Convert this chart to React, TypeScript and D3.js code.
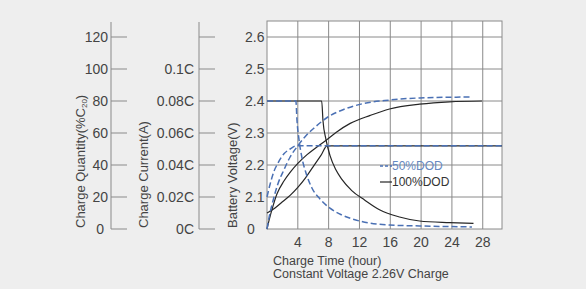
import React from "react";
import * as d3 from "d3";

const W = 586;
const H = 289;

// tick values and labels
const hourTicks = [4, 8, 12, 16, 20, 24, 28];
const quantityTicks = [0, 20, 40, 60, 80, 100, 120];
const currentTicks = [0, 0.02, 0.04, 0.06, 0.08, 0.1, 0.12];
const currentLabels = ["0C", "0.02C", "0.04C", "0.06C", "0.08C", "0.1C", ""];
const voltageTicks = [2.0, 2.1, 2.2, 2.3, 2.4, 2.5, 2.6];
const voltageLabels = ["0", "2.1", "2.2", "2.3", "2.4", "2.5", "2.6"];

// series: [hour, value]
const dod100Voltage: [number, number][] = [
  [0, 2.05], [1, 2.065], [2, 2.085], [3, 2.105], [4, 2.13], [5, 2.16],
  [6, 2.195], [7, 2.23], [7.8, 2.26], [30.5, 2.26],
];
const dod100Current: [number, number][] = [
  [0, 0.08], [7.1, 0.08], [7.26, 0.068], [7.65, 0.056], [8.17, 0.046],
  [8.94, 0.037], [9.72, 0.031], [11.0, 0.024], [12.7, 0.018], [14.6, 0.012],
  [17.2, 0.0075], [19.8, 0.005], [23.7, 0.004], [26.8, 0.0035],
];
const dod100Quantity: [number, number][] = [
  [0, 0], [0.3, 6], [0.7, 13], [1.3, 22], [2.2, 30], [3.1, 36], [4, 41],
  [5.2, 46.5], [6.4, 51], [7.8, 56], [9, 60.5], [10.8, 66], [13.4, 71],
  [15.9, 75], [19.8, 78], [23.7, 79.5], [27.9, 80],
];
const dod50Voltage: [number, number][] = [
  [0, 2.1], [0.4, 2.14], [0.9, 2.18], [1.4, 2.205], [2.2, 2.235],
  [3.0, 2.25], [3.8, 2.26], [30.5, 2.26],
];
const dod50Current: [number, number][] = [
  [0, 0.08], [3.75, 0.08], [3.89, 0.068], [4.15, 0.056], [4.54, 0.0444],
  [5.06, 0.035], [5.83, 0.0256], [6.87, 0.0188], [8.17, 0.013], [9.7, 0.0088],
  [12.0, 0.005], [15.9, 0.0025], [19.8, 0.0019], [26.6, 0.0013],
];
const dod50Quantity: [number, number][] = [
  [0, 0], [0.3, 8], [0.8, 18], [1.4, 28], [2.2, 37], [3.0, 45], [4.0, 52],
  [5.0, 58], [6.2, 63.5], [7.9, 70], [10.1, 75], [12.4, 78.3], [15.9, 80.6],
  [19.8, 81.9], [26.6, 82.5],
];

const FONT = "'Liberation Sans', Arial, sans-serif";
const TXT = "#444";
const GRID = "#8a8a8a";
const BLUE = "#4a70b4";
const BLACK = "#262626";

export default function App() {
  const plotL = 267, plotR = 502, plotT = 21, plotB = 229;
  const x = d3.scaleLinear().domain([0, 30.5]).range([plotL, plotR]);
  const yV = d3.scaleLinear().domain([2.0, 2.65]).range([plotB, plotT]);
  const yQ = d3.scaleLinear().domain([0, 130]).range([plotB, plotT]);
  const yC = d3.scaleLinear().domain([0, 0.13]).range([plotB, plotT]);

  const mk = (ys: d3.ScaleLinear<number, number>) =>
    d3.line<[number, number]>()
      .x((d) => x(d[0]))
      .y((d) => ys(d[1]))
      .curve(d3.curveMonotoneX);

  const qAxisX = 111;
  const cAxisX = 199;

  return (
    <>
      <style>{`body{margin:0;background:#eeeeee}`}</style>
      <svg width={W} height={H} style={{ display: "block", fontFamily: FONT }}>
        <rect x={0} y={0} width={W} height={H} fill="#eeeeee" />
        <rect x={plotL} y={plotT} width={plotR - plotL} height={plotB - plotT} fill="#ffffff" />

        {/* grid */}
        {voltageTicks.slice(1).map((v) => (
          <line key={"hg" + v} x1={plotL} x2={plotR} y1={yV(v)} y2={yV(v)} stroke={GRID} strokeWidth={1} />
        ))}
        {hourTicks.map((h) => (
          <line key={"vg" + h} x1={x(h)} x2={x(h)} y1={plotT} y2={plotB} stroke={GRID} strokeWidth={1} />
        ))}
        <rect x={plotL} y={plotT} width={plotR - plotL} height={plotB - plotT} fill="none" stroke={GRID} strokeWidth={1} />

        {/* quantity axis */}
        <line x1={qAxisX} x2={qAxisX} y1={plotT + 1} y2={plotB} stroke={GRID} />
        {quantityTicks.map((q) => (
          <g key={"q" + q}>
            <line x1={qAxisX} x2={qAxisX + 16} y1={yQ(q)} y2={yQ(q)} stroke={GRID} />
            <text x={q === 0 ? 104 : 108} y={yQ(q)} dy="0.36em" textAnchor="end" fontSize={14} fill={TXT}>
              {q}
            </text>
          </g>
        ))}
        {/* current axis */}
        <line x1={cAxisX} x2={cAxisX} y1={plotT + 1} y2={plotB} stroke={GRID} />
        {currentTicks.map((c, i) => (
          <g key={"c" + i}>
            <line x1={cAxisX} x2={cAxisX + 16} y1={yC(c)} y2={yC(c)} stroke={GRID} />
            <text x={194} y={yC(c)} dy="0.36em" textAnchor="end" fontSize={14} fill={TXT}>
              {currentLabels[i]}
            </text>
          </g>
        ))}
        {/* voltage labels */}
        {voltageTicks.map((v, i) => (
          <text key={"v" + i} x={i === 0 ? 247 : 245} y={yV(v)} dy="0.36em" textAnchor="start" fontSize={14} fill={TXT}>
            {voltageLabels[i]}
          </text>
        ))}
        {/* x labels */}
        {hourTicks.map((h) => (
          <text key={"xl" + h} x={x(h)} y={247} textAnchor="middle" fontSize={14} fill={TXT}>
            {h}
          </text>
        ))}

        {/* axis titles */}
        <text transform="translate(85,228) rotate(-90)" fontSize={13} fill={TXT}>
          Charge Quantity(%C<tspan fontSize={8} dy="2">20</tspan><tspan dy="-2">)</tspan>
        </text>
        <text transform="translate(148,228) rotate(-90)" fontSize={13} fill={TXT}>
          Charge Current(A)
        </text>
        <text transform="translate(237,228) rotate(-90)" fontSize={13} fill={TXT}>
          Battery Voltage(V)
        </text>
        <text x={273} y={265} fontSize={12.5} fill={TXT}>Charge Time (hour)</text>
        <text x={273} y={278} fontSize={12.5} fill={TXT}>Constant Voltage 2.26V Charge</text>

        {/* 100% DOD curves */}
        <path d={mk(yV)(dod100Voltage) || ""} fill="none" stroke={BLACK} strokeWidth={1.2} />
        <path d={mk(yC)(dod100Current) || ""} fill="none" stroke={BLACK} strokeWidth={1.2} />
        <path d={mk(yQ)(dod100Quantity) || ""} fill="none" stroke={BLACK} strokeWidth={1.2} />

        {/* 50% DOD curves */}
        <path d={mk(yV)(dod50Voltage) || ""} fill="none" stroke={BLUE} strokeWidth={1.5} strokeDasharray="6,3" />
        <path d={mk(yC)(dod50Current) || ""} fill="none" stroke={BLUE} strokeWidth={1.5} strokeDasharray="6,3" />
        <path d={mk(yQ)(dod50Quantity) || ""} fill="none" stroke={BLUE} strokeWidth={1.5} strokeDasharray="6,3" />

        {/* legend */}
        <line x1={380} x2={392} y1={166} y2={166} stroke={BLUE} strokeWidth={1.5} strokeDasharray="3,2" />
        <text x={392} y={166} dy="0.36em" fontSize={12} fill="#6688c0">50%DOD</text>
        <line x1={380} x2={392} y1={182} y2={182} stroke={BLACK} strokeWidth={1.2} />
        <text x={392} y={182} dy="0.36em" fontSize={12} fill="#333">100%DOD</text>
      </svg>
    </>
  );
}
